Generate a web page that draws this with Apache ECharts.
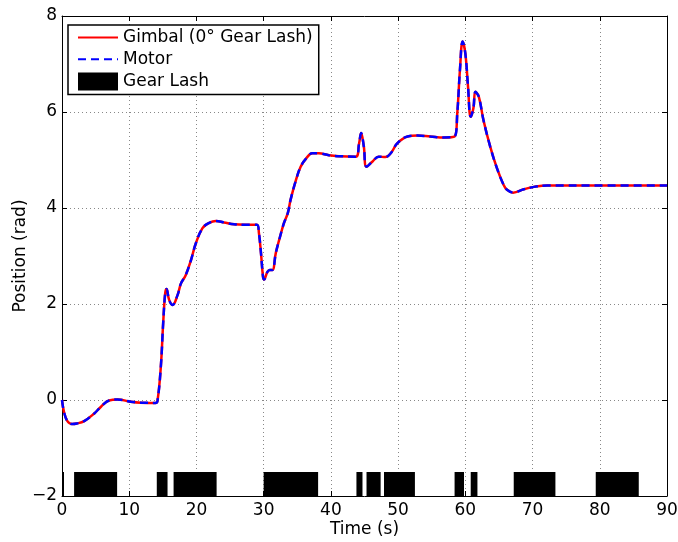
<!DOCTYPE html>
<html><head><meta charset="utf-8">
<script src="https://cdn.jsdelivr.net/npm/echarts@6/dist/echarts.min.js"></script>
<style>html,body{margin:0;padding:0;background:#fff}#c{width:678px;height:542px}</style>
</head><body><div id="c"></div>
<script>
const timeS = [0,0.3,0.8,1.5,2.2,3.3,4.8,5.8,7.0,8.3,10.2,11.7,13.9,14.2,14.7,15.05,15.35,15.55,15.95,16.45,17.2,17.7,18.4,19.2,19.9,20.9,21.9,22.9,24.1,25.6,27.3,29.0,29.3,29.6,29.9,30.06,30.56,30.9,31.3,31.8,32.3,33.0,33.6,34.0,34.8,35.5,36.3,37.25,38.2,39.7,41.2,43.7,44.2,44.5,44.9,45.3,46.2,47.1,48.1,48.9,49.9,51.4,52.9,54.8,56.8,58.4,58.8,59.2,59.6,60.0,60.4,60.8,61.2,61.5,62.0,62.7,63.7,64.7,65.7,66.2,67.1,68.7,70.2,72.2,80,90];
const gimbalPos = [0,-0.25,-0.44,-0.5,-0.49,-0.44,-0.28,-0.14,-0.01,0.01,-0.035,-0.055,-0.06,-0.02,0.69,1.6,2.22,2.31,2.08,1.98,2.19,2.43,2.6,2.92,3.26,3.58,3.69,3.73,3.70,3.66,3.65,3.65,3.47,3.06,2.57,2.51,2.67,2.71,2.71,3.06,3.33,3.68,3.9,4.17,4.58,4.86,5.03,5.14,5.14,5.10,5.08,5.07,5.35,5.56,5.28,4.86,4.97,5.07,5.06,5.14,5.35,5.49,5.51,5.49,5.47,5.49,5.97,6.88,7.47,7.22,6.53,5.90,6.08,6.42,6.32,5.83,5.28,4.83,4.48,4.38,4.32,4.39,4.44,4.47,4.47,4.47];
const motorPos = gimbalPos.slice();
const lashStart = [0,1.8,14.1,16.6,30.0,43.8,45.3,47.9,58.4,60.8,67.2,79.4];
const lashEnd   = [0.3,8.2,15.7,23.0,38.1,44.7,47.4,52.5,59.8,61.8,73.4,85.8];
const lashLow = -2, lashHigh = -1.5;
const xTicks = {min:0,max:90,interval:10};
const yTicks = {min:-2,max:8,interval:2};

const font = '"DejaVu Sans", sans-serif';
const fs = 17;
const chart = echarts.init(document.getElementById('c'), null, {renderer:'canvas'});
const gimbalData = timeS.map((t,i)=>[t,gimbalPos[i]]);
const motorData = timeS.map((t,i)=>[t,motorPos[i]]);
const lashData = lashStart.map((s,i)=>[s,lashEnd[i]]);
const gridLine = {show:true,lineStyle:{color:'#888',type:[1,3],width:1}};
const axCommon = {
  axisLine:{show:true,onZero:false,lineStyle:{color:'#000',width:1}},
  axisTick:{show:true,inside:true,length:5,lineStyle:{color:'#000'}},
};
chart.setOption({
  animation:false,
  backgroundColor:'#fff',
  textStyle:{fontFamily:font},
  grid:{left:62,right:11,top:16,bottom:46,containLabel:false,outerBoundsMode:'none'},
  legend:{
    orient:'vertical', left:68, top:25,
    backgroundColor:'#fff', borderColor:'#000', borderWidth:1.5,
    padding:[4,6,4,9], itemGap:4.7, itemWidth:40, itemHeight:18,
    textStyle:{fontFamily:font,fontSize:fs,color:'#000'},
    data:[
      {name:'Gimbal (0° Gear Lash)', itemStyle:{opacity:0}},
      {name:'Motor', itemStyle:{opacity:0}},
      {name:'Gear Lash', icon:'rect'}
    ]
  },
  xAxis:[
    Object.assign({type:'value',min:xTicks.min,max:xTicks.max,interval:xTicks.interval,
      name:'Time (s)',nameLocation:'middle',nameGap:25,nameMoveOverlap:false,
      nameTextStyle:{fontFamily:font,fontSize:fs,color:'#000'},
      axisLabel:{fontFamily:font,fontSize:fs,color:'#000',margin:6},
      splitLine:gridLine},axCommon),
    Object.assign({type:'value',position:'top',min:xTicks.min,max:xTicks.max,interval:xTicks.interval,
      axisLabel:{show:false},splitLine:{show:false}},axCommon)
  ],
  yAxis:[
    Object.assign({type:'value',min:yTicks.min,max:yTicks.max,interval:yTicks.interval,
      name:'Position (rad)',nameLocation:'middle',nameGap:33,nameMoveOverlap:false,
      nameTextStyle:{fontFamily:font,fontSize:fs,color:'#000'},
      axisLabel:{fontFamily:font,fontSize:fs,color:'#000',margin:5,
        formatter:v=>String(v).replace('-','\u2212')},
      splitLine:gridLine},axCommon),
    Object.assign({type:'value',position:'right',min:yTicks.min,max:yTicks.max,interval:yTicks.interval,
      axisLabel:{show:false},splitLine:{show:false}},axCommon)
  ],
  series:[
    {
      name:'Gear Lash', type:'custom', xAxisIndex:0, yAxisIndex:0,
      itemStyle:{color:'#000'},
      data:lashData,
      encode:{x:[0,1]},
      renderItem:function(params,api){
        const p1 = api.coord([api.value(0), lashHigh]);
        const p2 = api.coord([api.value(1), lashLow]);
        return {type:'rect',shape:{x:p1[0],y:p1[1],width:p2[0]-p1[0],height:p2[1]-p1[1]},
          style:{fill:'#000'}};
      },
      z:1
    },
    {
      name:'Gimbal (0° Gear Lash)', type:'line', data:gimbalData, showSymbol:false, symbol:'none',
      smooth:0.4,
      lineStyle:{color:'#ff0000',width:2.5}, itemStyle:{color:'#ff0000'}, z:3
    },
    {
      name:'Motor', type:'line', data:motorData, showSymbol:false, symbol:'none',
      smooth:0.4,
      lineStyle:{color:'#0000ff',width:2.5,type:[8,5]}, itemStyle:{color:'#0000ff'}, z:4
    }
  ]
});
</script></body></html>
